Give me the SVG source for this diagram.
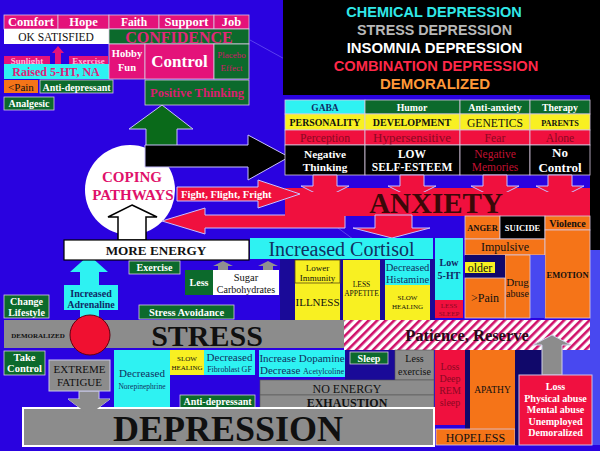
<svg xmlns="http://www.w3.org/2000/svg" width="600" height="451" viewBox="0 0 600 451">
<defs>
<style>
text{font-family:"Liberation Serif","Times New Roman",serif;text-anchor:middle}
.b{font-weight:bold}
.sans{font-family:"Liberation Sans",Arial,sans-serif;font-weight:bold}
.w{fill:#ffffff}
.k{fill:#101010}
.nv{fill:#102a66}
.dr{fill:#8a0822}
.pk{fill:#e4127a}
.gr{fill:#0c6a2c}
.cy{fill:#2ef2f2}
.ye{fill:#f8f022}
.or{fill:#f57418}
.rd{fill:#f0103e}
.gy{fill:#8c8c8c}
.nvb{fill:#1a0a98}
.ln{stroke:#d8c8e0;stroke-width:0.8}
.arr{stroke:#c8c0ff;stroke-width:1}
</style>
<pattern id="stripes" width="6" height="6" patternUnits="userSpaceOnUse" patternTransform="rotate(45)">
<rect width="6" height="6" fill="#ffffff"/>
<rect width="2.6" height="6" fill="#d0106a"/>
</pattern>
</defs>
<rect width="600" height="451" fill="#2a02e0"/>
<g stroke="#7a6af8" stroke-width="1" opacity="0.6">
<line x1="250" y1="40" x2="290" y2="62"/>
<line x1="330" y1="222" x2="365" y2="248"/>
</g>
<rect x="283" y="0" width="317" height="95" fill="#000000"/>
<rect x="590" y="95" width="10" height="155" fill="#000000"/>
<rect x="590" y="250" width="10" height="195" fill="#4848f0"/>

<g id="titles" class="sans">
<text x="434" y="17" font-size="14.5" fill="#30e8e8" class="sans">CHEMICAL DEPRESSION</text>
<text x="434.5" y="35" font-size="14.3" fill="#b8b8b8" class="sans">STRESS DEPRESSION</text>
<text x="434.5" y="53" font-size="14.9" fill="#ffffff" class="sans">INSOMNIA DEPRESSION</text>
<text x="436" y="71" font-size="14.7" fill="#ff2848" class="sans">COMBINATION DEPRESSION</text>
<text x="435" y="89" font-size="15" fill="#ff9838" class="sans">DEMORALIZED</text>
</g>

<g id="connectors">
<polygon points="162,105 193,129 177,129 177,150 146,150 146,129 129,129" fill="#0a6a1a" class="arr"/>
<circle id="coping-bg" cx="130" cy="190" r="45" fill="#ffffff"/>
<polygon points="145,145 248,145 248,135 289,157 248,180 248,167 145,167" fill="#000000" class="arr"/>
<polygon points="345,215 205,215 205,208 162,221 205,234 205,228 345,228" class="rd arr"/>
<polygon points="58,46 64,53 61,53 61,64 55,64 55,53 52,53" class="pk"/>
<polygon points="132,205 157,217 146,217 146,240 118,240 118,217 108,217" fill="#ffffff" stroke="#000" stroke-width="1.5"/>
<polygon points="89,255 108,272 99,272 99,285 80,285 80,272 70,272" class="cy"/>
<rect x="80" y="310" width="19" height="10" class="cy"/>
<polygon points="223,261 233,266 228,266 228,270 218,270 218,266 213,266" fill="#909090"/>
<polygon points="268,261 278,266 273,266 273,270 263,270 263,266 258,266" fill="#909090"/>
<polygon points="79,391 99,391 99,399 110,399 89,415 68,399 79,399" fill="#8c8c8c" stroke="#c8c8e8" stroke-width="1"/>
</g>

<g id="top-left">
<rect x="4" y="15" width="54" height="14" class="pk ln"/>
<rect x="58" y="15" width="51" height="14" class="pk ln"/>
<rect x="109" y="15" width="50" height="14" class="pk ln"/>
<rect x="159" y="15" width="55" height="14" class="pk ln"/>
<rect x="214" y="15" width="35" height="14" class="pk ln"/>
<text x="31" y="26" font-size="12.5" class="b w">Comfort</text>
<text x="83.5" y="26" font-size="12.5" class="b w">Hope</text>
<text x="134" y="26" font-size="11.5" class="b w">Faith</text>
<text x="186.5" y="26" font-size="12.5" class="b w">Support</text>
<text x="231.5" y="26" font-size="12.5" class="b w">Job</text>
<rect x="4" y="29" width="105" height="15" fill="#ffffff"/>
<text x="56" y="41" font-size="11.5" class="k">OK SATISFIED</text>
<rect x="109" y="29" width="140" height="15" class="gr ln"/>
<text x="179" y="43" font-size="16" class="b" fill="#e0287a">CONFIDENCE</text>
<rect x="4" y="56" width="46" height="8" class="pk"/>
<text x="27" y="63.5" font-size="9" class="b" fill="#ffb8dc">Sunlight</text>
<rect x="69" y="56" width="39" height="8" class="pk"/>
<text x="88.5" y="63.5" font-size="9" class="b" fill="#ffb8dc">Exercise</text>
<rect x="4" y="64" width="105" height="15" class="cy"/>
<text x="56" y="76" font-size="12" class="b" fill="#e0207a">Raised 5-HT, NA</text>
<rect x="109" y="44" width="36" height="35" class="pk ln"/>
<text x="127" y="57" font-size="10.5" class="b w">Hobby</text>
<text x="127" y="71" font-size="10.5" class="b w">Fun</text>
<rect x="145" y="44" width="69" height="35" class="pk ln"/>
<text x="179.5" y="67" font-size="17" class="b w">Control</text>
<rect x="214" y="44" width="35" height="35" class="gr ln"/>
<text x="231.5" y="58" font-size="9" fill="#d01868">Placebo</text>
<text x="231.5" y="71" font-size="9" fill="#d01868">Effect</text>
<rect x="4" y="80" width="34" height="13" class="or"/>
<text x="21" y="90.5" font-size="11" class="k">&lt;Pain</text>
<rect x="40" y="80" width="73" height="13" class="gr ln"/>
<text x="76.5" y="90.5" font-size="10" class="b w">Anti-depressant</text>
<rect x="4" y="97" width="50" height="13" class="gr ln"/>
<text x="29" y="107" font-size="10" class="b w">Analgesic</text>
<rect x="145" y="80" width="104" height="25" class="gr ln"/>
<text x="197" y="97" font-size="12.5" class="b" fill="#d82070">Positive Thinking</text>
</g>

<g id="coping">
<text x="132" y="182" font-size="15" class="b" fill="#e0106a">COPING</text>
<text x="133" y="200" font-size="15" class="b" fill="#e0106a">PATHWAYS</text>
</g>

<g id="table">
<rect x="285" y="100" width="80" height="14" class="cy ln"/>
<rect x="365" y="100" width="95" height="14" class="gr ln"/>
<rect x="460" y="100" width="70" height="14" class="gr ln"/>
<rect x="530" y="100" width="60" height="14" class="gr ln"/>
<text x="325" y="111" font-size="9.5" class="b nv">GABA</text>
<text x="412" y="111" font-size="9.8" class="b w">Humor</text>
<text x="495" y="111" font-size="10" class="b w">Anti-anxiety</text>
<text x="560" y="111" font-size="9.8" class="b w">Therapy</text>
<rect x="285" y="114" width="80" height="16" class="ye ln"/>
<rect x="365" y="114" width="95" height="16" class="ye ln"/>
<rect x="460" y="114" width="70" height="16" class="ye ln"/>
<rect x="530" y="114" width="60" height="16" class="ye ln"/>
<text x="325" y="126" font-size="9.8" class="b k">PERSONALITY</text>
<text x="412" y="126" font-size="10" class="b k">DEVELOPMENT</text>
<text x="495" y="127" font-size="11.6" class="k">GENETICS</text>
<text x="560" y="126" font-size="8.2" class="b k">PARENTS</text>
<rect x="285" y="130" width="80" height="15" class="rd ln"/>
<rect x="365" y="130" width="95" height="15" class="rd ln"/>
<rect x="460" y="130" width="70" height="15" class="rd ln"/>
<rect x="530" y="130" width="60" height="15" class="rd ln"/>
<text x="325" y="141.5" font-size="11.7" class="dr">Perception</text>
<text x="412" y="142" font-size="13" class="dr">Hypersensitive</text>
<text x="495" y="141.5" font-size="11.7" class="dr">Fear</text>
<text x="560" y="141.5" font-size="11.7" class="dr">Alone</text>
<rect x="285" y="145" width="80" height="30" fill="#000" class="ln"/>
<rect x="365" y="145" width="95" height="30" fill="#000" class="ln"/>
<rect x="460" y="145" width="70" height="30" fill="#000" class="ln"/>
<rect x="530" y="145" width="60" height="30" fill="#000" class="ln"/>
<text x="325" y="157.5" font-size="11.3" class="b w">Negative</text>
<text x="325" y="170.5" font-size="11.3" class="b w">Thinking</text>
<text x="412" y="157.5" font-size="11.5" class="b w">LOW</text>
<text x="412" y="171" font-size="11.5" class="b w">SELF-ESTEEM</text>
<text x="495" y="157.5" font-size="11.5" fill="#c01030">Negative</text>
<text x="495" y="171" font-size="11.5" fill="#c01030">Memories</text>
<text x="560" y="157" font-size="13" class="b w">No</text>
<text x="560" y="172" font-size="13" class="b w">Control</text>
</g>

<g id="anxiety">
<rect x="285" y="188" width="305" height="28" class="rd"/>
<g class="rd arr">
<polygon points="313,175 337,175 337,186 349,186 325,198 301,186 313,186"/>
<polygon points="400,175 424,175 424,186 436,186 412,198 388,186 400,186"/>
<polygon points="483,175 507,175 507,186 519,186 495,198 471,186 483,186"/>
<polygon points="548,175 572,175 572,186 584,186 560,198 536,186 548,186"/>
</g>
<rect x="285" y="192" width="305" height="24" class="rd"/>
<polygon points="177,187 258,187 258,180 300,194 258,208 258,201 177,201" class="rd arr"/>
<text x="181" y="198" font-size="10.6" class="b w" style="text-anchor:start">Fight, Flight, Fright</text>
<text x="436" y="213" font-size="29" class="b" fill="#3a0808">ANXIETY</text>
<polygon points="375,215 412,215 412,228 430,228 392,238 353,228 375,228" class="rd arr"/>
</g>

<g id="cortisol">
<rect x="250" y="238" width="183" height="21" class="cy"/>
<text x="341.5" y="256" font-size="20" fill="#103060">Increased Cortisol</text>
</g>

<g id="middle-effects">
<rect x="280" y="259" width="155" height="61" class="nvb"/>
<rect x="295" y="283" width="45" height="37" class="ye"/>
<rect x="295" y="260" width="45" height="23" class="ye" stroke="#5a4a10" stroke-width="0.8"/>
<text x="317.5" y="270.5" font-size="9" class="k">Lower</text>
<text x="317.5" y="280.5" font-size="9" class="k">Immunity</text>
<text x="317.5" y="306" font-size="11" class="k">ILLNESS</text>
<rect x="343" y="260" width="37" height="60" class="ye"/>
<text x="361.5" y="287" font-size="7.5" class="k">LESS</text>
<text x="361.5" y="296" font-size="7.5" class="k">APPETITE</text>
<rect x="385" y="260" width="45" height="25" class="cy"/>
<text x="407.5" y="271" font-size="10.5" fill="#103060">Decreased</text>
<text x="407.5" y="282.5" font-size="10.5" fill="#103060">Histamine</text>
<rect x="385" y="285" width="45" height="35" class="ye"/>
<text x="407.5" y="300" font-size="7" class="k">SLOW</text>
<text x="407.5" y="309" font-size="7" class="k">HEALING</text>
<rect x="435" y="238" width="28" height="62" class="cy"/>
<text x="449" y="266" font-size="10" class="b nv">Low</text>
<text x="449" y="279" font-size="10" class="b nv">5-HT</text>
<rect x="435" y="300" width="28" height="18" class="rd"/>
<text x="449" y="308" font-size="7" class="dr">LESS</text>
<text x="449" y="316" font-size="7" class="dr">SLEEP</text>
</g>

<g id="emotion">
<rect x="465" y="216" width="35" height="23" class="or ln"/>
<text x="482.5" y="231" font-size="8.5" class="b k">ANGER</text>
<rect x="500" y="216" width="45" height="23" fill="#000" class="ln"/>
<text x="522.5" y="231" font-size="8.5" class="b w">SUICIDE</text>
<rect x="545" y="216" width="45" height="14" class="or ln"/>
<text x="567.5" y="226.5" font-size="10" class="b k">Violence</text>
<rect x="465" y="239" width="80" height="16" class="or ln"/>
<text x="505" y="251" font-size="12" class="k">Impulsive</text>
<rect x="545" y="230" width="45" height="88" class="or ln"/>
<text x="567.5" y="278" font-size="8.5" class="b k">EMOTION</text>
<rect x="530" y="255" width="15" height="63" fill="#4848f0"/>
<rect x="505" y="255" width="25" height="63" class="or ln"/>
<text x="517.5" y="286" font-size="11" class="k">Drug</text>
<text x="517.5" y="297" font-size="10" class="k">abuse</text>
<rect x="465" y="255" width="40" height="23" fill="#10086a"/>
<rect x="465" y="262" width="30" height="11" class="ye"/>
<text x="480" y="272" font-size="12" class="k">older</text>
<rect x="465" y="278" width="40" height="40" class="or ln"/>
<text x="485" y="302" font-size="12" class="k">&gt;Pain</text>
</g>

<g id="energy">
<rect x="64" y="240" width="185" height="20" fill="#fff" stroke="#000" stroke-width="1.2"/>
<text x="156" y="255" font-size="13.2" class="b k">MORE ENERGY</text>
<rect x="129" y="261" width="51" height="13" class="gr ln"/>
<text x="154.5" y="271" font-size="10" class="b w">Exercise</text>
<rect x="185" y="270" width="28" height="25" class="gr"/>
<text x="199" y="286" font-size="10" class="b w">Less</text>
<rect x="213" y="270" width="66" height="25" fill="#fff"/>
<text x="246" y="281" font-size="10.5" class="k">Sugar</text>
<text x="246" y="293" font-size="10" class="k">Carbohydrates</text>
<rect x="64" y="285" width="54" height="25" class="cy"/>
<text x="91" y="297" font-size="10" class="b nv">Increased</text>
<text x="91" y="308" font-size="10" class="b nv">Adrenaline</text>
<rect x="4" y="295" width="45" height="23" class="gr ln"/>
<text x="26.5" y="305" font-size="10" class="b w">Change</text>
<text x="26.5" y="315.5" font-size="10" class="b w">Lifestyle</text>
<rect x="139" y="305" width="95" height="14" class="gr ln"/>
<text x="186.5" y="316" font-size="10.5" class="b w">Stress Avoidance</text>
</g>

<g id="stress">
<rect x="4" y="320" width="340" height="28" class="gy"/>
<text x="207" y="346" font-size="30" class="b k">STRESS</text>
<text x="38" y="338" font-size="7" class="b k">DEMORALIZED</text>
<circle cx="90" cy="335" r="20" fill="#f01030" stroke="#600010" stroke-width="1"/>
</g>

<g id="patience">
<rect x="344" y="320" width="246" height="30" fill="url(#stripes)"/>
<text x="467" y="341" font-size="16.5" class="b" fill="#2a0818">Patience, Reserve</text>
</g>

<g id="lower-left">
<rect x="4" y="351" width="41" height="24" class="gr ln"/>
<text x="24.5" y="361" font-size="10.5" class="b w">Take</text>
<text x="24.5" y="372" font-size="10.5" class="b w">Control</text>
<rect x="49" y="360" width="61" height="31" class="gy" stroke="#c8c8e8" stroke-width="1"/>
<text x="79.5" y="373" font-size="11" class="k">EXTREME</text>
<text x="79.5" y="386" font-size="11" class="k">FATIGUE</text>
<rect x="114" y="350" width="56" height="58" class="cy"/>
<text x="142" y="377" font-size="11" fill="#103060">Decreased</text>
<text x="142" y="389" font-size="7.5" fill="#103060">Norepinephrine</text>
<rect x="170" y="350" width="34" height="25" class="ye"/>
<text x="187" y="361" font-size="7" class="k">SLOW</text>
<text x="187" y="370" font-size="7" class="k">HEALING</text>
<rect x="204" y="350" width="51" height="25" class="cy"/>
<text x="229.5" y="361" font-size="11" fill="#103060">Decreased</text>
<text x="229.5" y="372" font-size="8" fill="#103060">Fibroblast GF</text>
<rect x="180" y="395" width="75" height="13" class="gr ln"/>
<text x="217.5" y="405" font-size="10" class="b w">Anti-depressant</text>
</g>

<g id="lower-middle">
<rect x="259" y="350" width="86" height="27" class="cy"/>
<text x="302" y="362" font-size="11" fill="#103060">Increase Dopamine</text>
<text x="302" y="374" fill="#103060"><tspan font-size="11">Decrease </tspan><tspan font-size="8">Acetylcoline</tspan></text>
<rect x="345" y="350" width="50" height="30" class="nvb"/>
<rect x="350" y="352" width="38" height="12" class="gr ln"/>
<text x="369" y="362" font-size="10" class="b w">Sleep</text>
<rect x="395" y="350" width="39" height="30" class="gy" stroke="#555" stroke-width="0.6"/>
<text x="414.5" y="362" font-size="10" class="k">Less</text>
<text x="414.5" y="375" font-size="10" class="k">exercise</text>
<rect x="260" y="380" width="174" height="15" class="gy" stroke="#555" stroke-width="0.6"/>
<text x="347" y="393" font-size="12" class="k">NO ENERGY</text>
<rect x="260" y="395" width="174" height="13" class="gy" stroke="#555" stroke-width="0.6"/>
<text x="347" y="406.5" font-size="12" class="b k">EXHAUSTION</text>
</g>

<g id="depression">
<rect x="23" y="408" width="411" height="38" class="gy" stroke="#ffffff" stroke-width="2"/>
<text x="228" y="441" font-size="36" class="b k">DEPRESSION</text>
<polygon points="79,405 99,405 99,399 110,399 89,415 68,399 79,399" fill="#8c8c8c"/>
</g>

<g id="lower-right">
<rect x="435" y="350" width="30" height="75" class="rd"/>
<text x="450" y="370" font-size="10" class="dr">Loss</text>
<text x="450" y="382" font-size="10" class="dr">Deep</text>
<text x="450" y="394" font-size="10" class="dr">REM</text>
<text x="450" y="406" font-size="10" class="dr">sleep</text>
<rect x="465" y="350" width="5" height="80" fill="#10086a"/>
<rect x="470" y="350" width="45" height="80" class="or"/>
<text x="492.5" y="393" font-size="9.5" class="k">APATHY</text>
<rect x="436" y="429" width="79" height="16" class="or ln"/>
<text x="475.5" y="442" font-size="12" class="k">HOPELESS</text>
<rect x="515" y="350" width="27" height="95" fill="#10086a"/>
<rect x="542" y="350" width="48" height="25" fill="#4848f0"/>
<polygon points="552,335 571,345 562,345 562,375 542,375 542,345 533,345" fill="#8c8c8c" stroke="#d0d0e8" stroke-width="1"/>
<rect x="519" y="375" width="73" height="70" fill="#f01040" stroke="#d0c0e0" stroke-width="1"/>
<text x="555.5" y="390" font-size="10" class="b w">Loss</text>
<text x="555.5" y="402" font-size="10" class="b w">Physical abuse</text>
<text x="555.5" y="413" font-size="10" class="b w">Mental abuse</text>
<text x="555.5" y="425" font-size="10" class="b w">Unemployed</text>
<text x="555.5" y="436" font-size="10" class="b w">Demoralized</text>
</g>
</svg>
